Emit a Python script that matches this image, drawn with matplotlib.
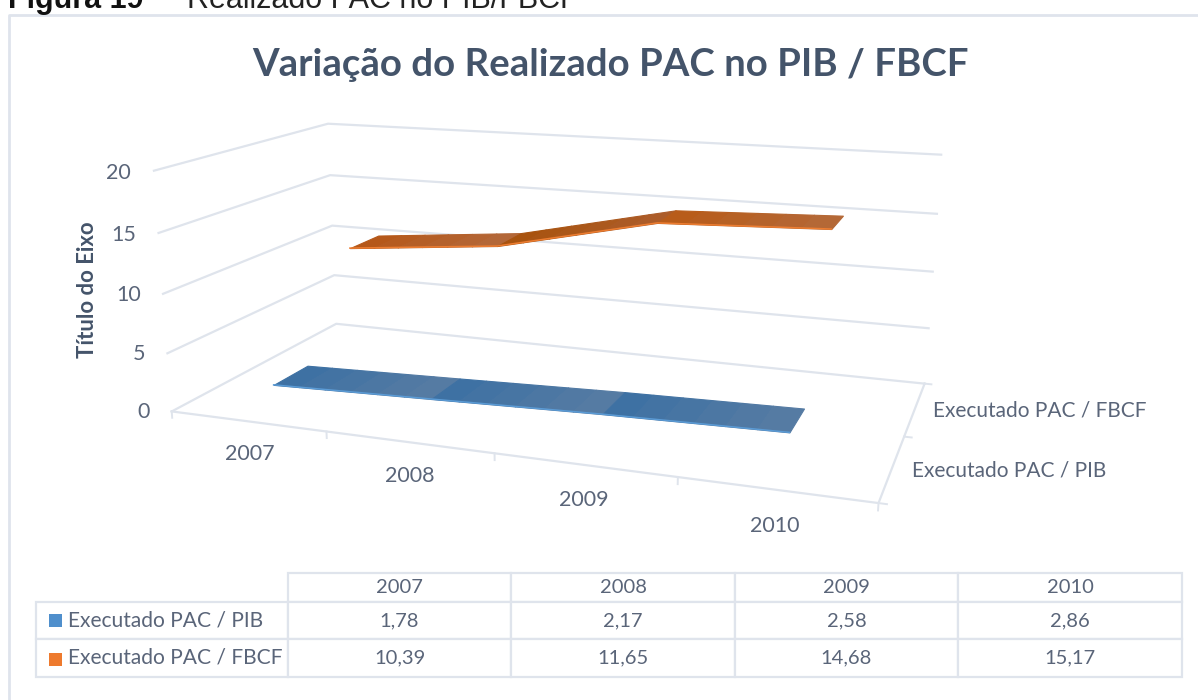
import numpy as np
import matplotlib
matplotlib.use("Agg")
import matplotlib.pyplot as plt
from matplotlib.colors import to_rgb
from matplotlib.patches import Rectangle
from matplotlib.lines import Line2D
from mpl_toolkits.mplot3d import proj3d
from mpl_toolkits.mplot3d.art3d import Poly3DCollection

W = 1198
H = 700

years = ['2007', '2008', '2009', '2010']
series_names = ['Executado PAC / PIB', 'Executado PAC / FBCF']
pib = [1.78, 2.17, 2.58, 2.86]
fbcf = [10.39, 11.65, 14.68, 15.17]
pib_text = ['1,78', '2,17', '2,58', '2,86']
fbcf_text = ['10,39', '11,65', '14,68', '15,17']
z_ticks = [0, 5, 10, 15, 20]

text_col = '#5A6579'
title_col = '#44546A'
grid_col = '#DFE4EC'
main_font = 'Lato'

fig = plt.figure(figsize=(W / 100, H / 100), dpi=100, facecolor='white')

# frame and caption of the page
fig.add_artist(Line2D([9 / W, 9 / W, 1], [0, 1 - 15 / H, 1 - 15 / H], color=grid_col, lw=2))
fig.text(8 / W, 1 - 8 / H, 'Figura 19', family='Liberation Sans', weight='bold', fontsize=22, color='#111111', va='baseline')
fig.text(160 / W, 1 - 5 / H, '–', family='Liberation Sans', fontsize=22, color='#222222', va='baseline')
fig.text(187 / W, 1 - 8 / H, 'Realizado PAC no PIB/FBCF', family='Liberation Sans', fontsize=22, color='#222222', va='baseline')

fig.text(610 / W, 1 - 65 / H, 'Variação do Realizado PAC no PIB / FBCF', family=main_font, weight='bold',
         fontsize=27.6, color=title_col, ha='center', va='center')
fig.text(87 / W, 1 - 290 / H, 'Título do Eixo', family=main_font, weight='bold', fontsize=15.9, color=title_col,
         rotation=90, ha='center', va='center')

# square 3d axes that covers the whole figure, needed so nothing is clipped
ax = fig.add_axes([0, (H - W) / 2 / H, 1, W / H], projection='3d')
ax.set_axis_off()
ax.patch.set_visible(False)
ax.computed_zorder = False
ax.apply_aspect()

# camera fitted to the box corners of the picture: (category, series, value) -> pixel
world = np.array([
    [0, 0, 0], [4, 0, 0], [4, 2, 0], [0, 2, 0],
    [0, 2, 20], [4, 2, 20], [0, 0, 20], [1, 0, 0],
    [2, 0, 0], [3, 0, 0], [4, 2, 10], [0, 2, 10], [0, 0, 10]], dtype=float)
pixels = np.array([
    [173, 411], [878, 503], [925, 382], [335, 324],
    [328, 124], [941, 155], [154, 170], [327, 432],
    [494, 454], [678, 478], [933, 272], [333, 226], [162, 293]], dtype=float)
disp = np.column_stack([pixels[:, 0], H - pixels[:, 1]])
uv = ax.transData.inverted().transform(disp)

rows = []
for (x, y, z), (u, v) in zip(world, uv):
    rows.append([x, y, z, 1, 0, 0, 0, 0, -u * x, -u * y, -u * z, -u])
    rows.append([0, 0, 0, 0, x, y, z, 1, -v * x, -v * y, -v * z, -v])
P = np.linalg.svd(np.array(rows))[2][-1].reshape(3, 4)
if P[2, 3] < 0:
    P = -P
# depth row kept small, mplot3d drops line points that fall outside its z range
M = np.vstack([P[0], P[1], [0, -0.1 * P[2, 3], 0, 0], P[2]])
ax.get_proj = lambda: M


def box_line(xs, ys, zs, **kw):
    ax.plot(xs, ys, zs, color=grid_col, clip_on=False, zorder=1, **kw)


def label(x, y, z, s, **kw):
    # goes through the same camera, but as plain figure text
    u, v, _ = proj3d.proj_transform(x, y, z, M)
    px, py = ax.transData.transform((u, v))
    fig.text(px / W, py / H, s, family=main_font, color=text_col, va='center', **kw)


# grid on walls
for z in z_ticks:
    box_line([0, 0, 4], [0, 2, 2], [z, z, z], lw=1.6)
# floor box and ticks
box_line([0, 4, 4], [0, 0, 2], [0, 0, 0], lw=1.6)
for i in range(5):
    box_line([i, i], [0, 0], [0, -0.55], lw=1.4)
for j in range(3):
    box_line([4, 4.04], [j, j], [0, 0], lw=1.4)

# ribbons, each segment shaded from its left to its right end
ribbon_w = 0.2
n_strips = 6
ribbon_cols = [
    (fbcf, 1.5, [('#B5581A', '#B36A3E'), ('#A8530F', '#AD5E2E'), ('#B85C1A', '#B36A3C')], '#ED7D31'),
    (pib, 0.5, [('#3E71A3', '#5A7DA3'), ('#3E71A3', '#5A7DA3'), ('#3E71A3', '#5A7DA3')], '#5B9BD5'),
]
for vals, depth, cols, edge in ribbon_cols:
    for k in range(len(vals) - 1):
        for s in range(n_strips):
            t0 = s / n_strips
            t1 = (s + 1) / n_strips
            x0 = k + 0.5 + t0
            x1 = k + 0.5 + t1
            z0 = vals[k] + (vals[k + 1] - vals[k]) * t0
            z1 = vals[k] + (vals[k + 1] - vals[k]) * t1
            c = np.array(to_rgb(cols[k][0])) * (1 - t0) + np.array(to_rgb(cols[k][1])) * t0
            quad = [[(x0, depth - ribbon_w, z0), (x1, depth - ribbon_w, z1),
                     (x1, depth + ribbon_w, z1), (x0, depth + ribbon_w, z0)]]
            pc = Poly3DCollection(quad, facecolor=c, edgecolor=c, linewidth=0.8, zorder=3, clip_on=False)
            ax.add_collection3d(pc)
    xs = [k + 0.5 for k in range(len(vals))]
    ax.plot(xs, [depth - ribbon_w] * len(xs), vals, color=edge, lw=1.1, clip_on=False, zorder=4)

# tick labels
for z in z_ticks:
    label(-0.15, 0, z - 0.3, str(z), fontsize=15.5, ha='right')
for i, yr in enumerate(years):
    label(i + 0.5, 0, -2.8, yr, fontsize=15.5, ha='center')
for j, name in enumerate(series_names):
    label(4.1, j + 0.5, 0, name, fontsize=15, ha='left')

# data table below
x_edges = [36, 288, 511, 735, 958, 1182]
y_edges = [573, 602, 639, 677]
tax = fig.add_axes([36 / W, 1 - 677 / H, (1182 - 36) / W, (677 - 573) / H])
tax.set_axis_off()
cells = [[''] + years, [series_names[0]] + pib_text, [series_names[1]] + fbcf_text]
col_w = [(x_edges[i + 1] - x_edges[i]) / (1182 - 36) for i in range(5)]
tab = tax.table(cellText=cells, colWidths=col_w, bbox=[0, 0, 1, 1], cellLoc='center')
tab.auto_set_font_size(False)
for (r, c), cell in tab.get_celld().items():
    cell.set_height((y_edges[r + 1] - y_edges[r]) / (677 - 573))
    cell.set_edgecolor(grid_col)
    cell.set_linewidth(1.6)
    cell.get_text().set_fontfamily(main_font)
    cell.get_text().set_fontsize(14.5)
    cell.get_text().set_color(text_col)
    if c == 0:
        cell.get_text().set_fontsize(15.1)
        cell.get_text().set_horizontalalignment('left')
        cell.PAD = (68 - 36) / 252
tab[(0, 0)].visible_edges = ''

for top, col in zip([614, 653], ['#4F8FCC', '#EE7A2E']):
    fig.add_artist(Rectangle((49 / W, 1 - (top + 13) / H), 13 / W, 13 / H, transform=fig.transFigure, facecolor=col, edgecolor='none'))

fig.savefig('out.png', dpi=100)
